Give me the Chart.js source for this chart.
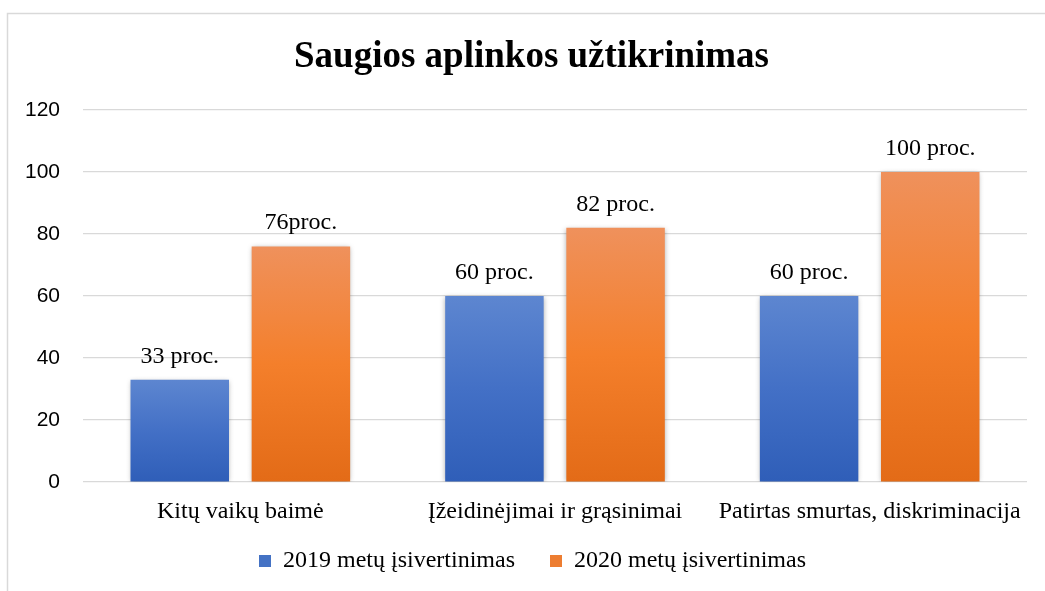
<!DOCTYPE html>
<html>
<head>
<meta charset="utf-8">
<script src="https://cdn.jsdelivr.net/npm/chart.js@4.4.1/dist/chart.umd.min.js"></script>
<style>
  html, body { margin: 0; padding: 0; background: #ffffff; }
  #c { display: block; }
</style>
</head>
<body>
<canvas id="c" width="1045" height="591"></canvas>
<script>
const chartTitle = "Saugios aplinkos užtikrinimas";
const categories = ["Kitų vaikų baimė", "Įžeidinėjimai ir grąsinimai", "Patirtas smurtas, diskriminacija"];
const seriesNames = ["2019 metų įsivertinimas", "2020 metų įsivertinimas"];
const values2019 = [33, 60, 60];
const values2020 = [76, 82, 100];
const labels2019 = ["33 proc.", "60 proc.", "60 proc."];
const labels2020 = ["76proc.", "82 proc.", "100 proc."];
const yTicks = [0, 20, 40, 60, 80, 100, 120];

const SERIF = "'Liberation Serif', 'Times New Roman', serif";
const SANS = "'Liberation Sans', Arial, sans-serif";

const palettes = [
  { solid: '#4472c4', stops: ['#5d86d0', '#4370c6', '#2f5eb8'] },
  { solid: '#ed7d31', stops: ['#ef915c', '#f47f2b', '#e36b17'] }
];

function barFill(idx) {
  return function (ctx) {
    const p = palettes[idx];
    if (ctx.type !== 'data') return p.solid;
    const chart = ctx.chart;
    const y = chart.scales && chart.scales.y;
    if (!y || !chart.chartArea) return p.solid;
    const top = y.getPixelForValue(ctx.raw);
    const bottom = y.getPixelForValue(0);
    if (!isFinite(top) || !isFinite(bottom) || top === bottom) return p.solid;
    const g = chart.ctx.createLinearGradient(0, top, 0, bottom);
    g.addColorStop(0, p.stops[0]);
    g.addColorStop(0.5, p.stops[1]);
    g.addColorStop(1, p.stops[2]);
    return g;
  };
}

const frame = {
  id: 'frame',
  beforeDraw(chart) {
    const c = chart.ctx;
    c.save();
    c.fillStyle = '#ffffff';
    c.fillRect(0, 0, chart.width, chart.height);
    c.strokeStyle = '#d9d9d9';
    c.lineWidth = 1.5;
    c.strokeRect(7.5, 13.5, 1200, 800);
    c.restore();
  }
};

const shiftBoxes = {
  id: 'shiftBoxes',
  afterLayout(chart) {
    if (chart.titleBlock) { chart.titleBlock.left += 18; chart.titleBlock.right += 18; }
    if (chart.legend) {
      chart.legend.left += 19; chart.legend.right += 19;
      chart.legend.top -= 12; chart.legend.bottom -= 12;
    }
  }
};

const barShadow = {
  id: 'barShadow',
  beforeDatasetsDraw(chart) {
    const c = chart.ctx;
    c.save();
    c.shadowColor = 'rgba(0,0,0,0.32)';
    c.shadowBlur = 5;
    c.shadowOffsetX = 0;
    c.shadowOffsetY = 1;
  },
  afterDatasetsDraw(chart) {
    chart.ctx.restore();
  }
};

const valueLabels = {
  id: 'valueLabels',
  afterDatasetsDraw(chart) {
    const c = chart.ctx;
    const texts = [labels2019, labels2020];
    c.save();
    c.font = '24px ' + SERIF;
    c.fillStyle = '#000000';
    c.textAlign = 'center';
    c.textBaseline = 'alphabetic';
    chart.data.datasets.forEach((ds, di) => {
      const meta = chart.getDatasetMeta(di);
      meta.data.forEach((bar, i) => {
        c.fillText(texts[di][i], bar.x, bar.y - 17);
      });
    });
    c.restore();
  }
};

new Chart(document.getElementById('c'), {
  type: 'bar',
  data: {
    labels: categories,
    datasets: [
      { label: seriesNames[0], data: values2019, backgroundColor: barFill(0), borderWidth: 0,
        categoryPercentage: 0.770, barPercentage: 0.813 },
      { label: seriesNames[1], data: values2020, backgroundColor: barFill(1), borderWidth: 0,
        categoryPercentage: 0.770, barPercentage: 0.813 }
    ]
  },
  options: {
    responsive: false,
    maintainAspectRatio: false,
    animation: false,
    layout: { padding: { left: 0, right: 18, top: 0, bottom: -4 } },
    plugins: {
      title: {
        display: true,
        text: chartTitle,
        color: '#000000',
        font: { family: SERIF, size: 37, weight: 'bold', lineHeight: 1.2 },
        padding: { top: 35, bottom: 30.6 }
      },
      legend: {
        display: true,
        position: 'bottom',
        labels: {
          color: '#000000',
          font: { family: SERIF, size: 24 },
          boxWidth: 12,
          boxHeight: 12,
          padding: 35,
          generateLabels(chart) {
            return chart.data.datasets.map((ds, i) => ({
              text: ds.label,
              fillStyle: palettes[i].solid,
              strokeStyle: palettes[i].solid,
              lineWidth: 0,
              hidden: false,
              datasetIndex: i
            }));
          }
        }
      },
      tooltip: { enabled: false }
    },
    scales: {
      x: {
        grid: { display: false, drawTicks: false },
        border: { display: false },
        ticks: { color: '#000000', font: { family: SERIF, size: 24 }, padding: 15, maxRotation: 0, autoSkip: false },
        afterFit(scale) { scale.height = 44; }
      },
      y: {
        min: 0,
        max: 120,
        afterBuildTicks(scale) { scale.ticks = yTicks.map(v => ({ value: v })); },
        grid: { color: '#d9d9d9', lineWidth: 1.2, drawTicks: false },
        border: { display: false },
        ticks: { color: '#000000', font: { family: SANS, size: 21 }, padding: 23 },
        afterFit(scale) { scale.width = 83; }
      }
    }
  },
  plugins: [frame, shiftBoxes, barShadow, valueLabels]
});
</script>
</body>
</html>
